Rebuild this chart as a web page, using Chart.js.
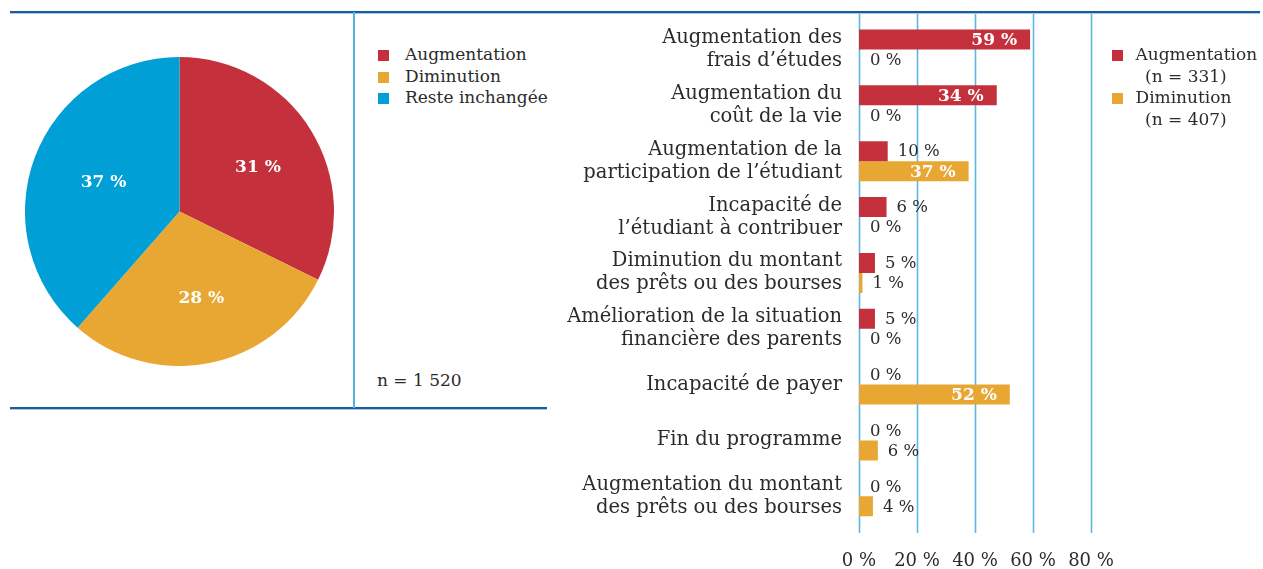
<!DOCTYPE html>
<html lang="fr">
<head>
<meta charset="utf-8">
<script src="https://cdn.jsdelivr.net/npm/chart.js@4/dist/chart.umd.min.js"></script>
<style>
  body { margin: 0; background: #fff; }
  #wrap { position: relative; width: 1263px; height: 569px; overflow: hidden;
    font-family: "DejaVu Serif", serif; color: #2b2b2b; }
  .rule { position: absolute; background: #1d5c9b; }
  #top { left: 10px; top: 11px; width: 1250px; height: 2px; box-shadow: 0 1px 0 #a8c8e4; }
  #bottom { left: 10px; top: 407px; width: 537px; height: 2px; box-shadow: 0 1px 0 #a8c8e4; }
  #vline { position: absolute; left: 353px; top: 12px; width: 2px; height: 396px; background: #55b3df; }
  .legend { position: absolute; font-size: 17px; line-height: 21.5px; }
  .legend .row { position: relative; white-space: nowrap; }
  .legend .sw { position: absolute; left: 0; top: 6px; width: 11px; height: 11px; }
  #pie-legend .row { padding-left: 27px; }
  #bar-legend .row { padding-left: 23.5px; }
  #bar-legend .sub { padding-left: 9.5px; }
  #pie { position: absolute; left: 25px; top: 57px; }
  #bars { position: absolute; left: 555px; top: 0; }
  #nlabel { position: absolute; left: 377px; top: 370px; font-size: 17px; }
</style>
</head>
<body>
<div id="wrap">
  <canvas id="pie" width="309" height="309"></canvas>
  <canvas id="bars" width="708" height="569"></canvas>
  <div class="rule" id="top"></div>
  <div class="rule" id="bottom"></div>
  <div id="vline"></div>
  <div class="legend" id="pie-legend" style="left:378px; top:44px;"></div>
  <div id="nlabel"></div>
  <div class="legend" id="bar-legend" style="left:1112px; top:44px;"></div>
</div>
<script>
"use strict";

// Data ----------------------------------------------------------------------
const pieLabels = ["Augmentation", "Diminution", "Reste inchangée"];
const pieValues = [31, 28, 37];
const pieTotalN = "n = 1 520";

const categories = [
  ["Augmentation des", "frais d’études"],
  ["Augmentation du", "coût de la vie"],
  ["Augmentation de la", "participation de l’étudiant"],
  ["Incapacité de", "l’étudiant à contribuer"],
  ["Diminution du montant", "des prêts ou des bourses"],
  ["Amélioration de la situation", "financière des parents"],
  ["Incapacité de payer"],
  ["Fin du programme"],
  ["Augmentation du montant", "des prêts ou des bourses"],
];
// bar lengths as drawn in the picture, and the percentages printed beside them
const augBars = [59, 47.5, 9.9, 9.5, 5.5, 5.5, 0, 0, 0];
const augText = [59, 34, 10, 6, 5, 5, 0, 0, 0];
const dimBars = [0, 0, 37.8, 0, 1.2, 0, 52, 6.5, 4.8];
const dimText = [0, 0, 37, 0, 1, 0, 52, 6, 4];
const seriesNames = ["Augmentation", "Diminution"];
const seriesN = ["(n = 331)", "(n = 407)"];
const xTicks = [0, 20, 40, 60, 80];

const RED = "#c4303b";
const ORANGE = "#e8a733";
const BLUE = "#009fd6";
const GRID = "#5bb8e2";
const TEXT = "#2b2b2b";
const FONT = "'DejaVu Serif', serif";

Chart.defaults.font.family = FONT;
Chart.defaults.color = TEXT;

// Legends (plain text) ------------------------------------------------------
function legendRow(color, text, sub) {
  let html = `<div class="row"><span class="sw" style="background:${color}"></span>${text}</div>`;
  if (sub) html += `<div class="row"><span class="sub">${sub}</span></div>`;
  return html;
}
document.getElementById("pie-legend").innerHTML =
  pieLabels.map((l, i) => legendRow([RED, ORANGE, BLUE][i], l)).join("");
document.getElementById("bar-legend").innerHTML =
  seriesNames.map((l, i) => legendRow([RED, ORANGE][i], l, seriesN[i])).join("");
document.getElementById("nlabel").textContent = pieTotalN;

// Pie -----------------------------------------------------------------------
const pieLabelPlugin = {
  id: "pieLabels",
  afterDatasetsDraw(chart) {
    const ctx = chart.ctx;
    const meta = chart.getDatasetMeta(0);
    ctx.save();
    ctx.font = `bold 17px ${FONT}`;
    ctx.fillStyle = "#fff";
    ctx.textAlign = "center";
    ctx.textBaseline = "middle";
    meta.data.forEach((arc, i) => {
      const mid = (arc.startAngle + arc.endAngle) / 2;
      const r = arc.outerRadius * 0.56;
      ctx.fillText(pieValues[i] + " %", arc.x + Math.cos(mid) * r + 5, arc.y + Math.sin(mid) * r + 2);
    });
    ctx.restore();
  },
};

new Chart(document.getElementById("pie"), {
  type: "pie",
  data: {
    labels: pieLabels,
    datasets: [{ data: pieValues, backgroundColor: [RED, ORANGE, BLUE], borderWidth: 0 }],
  },
  options: {
    responsive: false,
    animation: false,
    layout: { padding: 0 },
    plugins: { legend: { display: false }, tooltip: { enabled: false } },
  },
  plugins: [pieLabelPlugin],
});

// Bars ----------------------------------------------------------------------
const gridPlugin = {
  id: "tallGrid",
  beforeDatasetsDraw(chart) {
    const ctx = chart.ctx;
    const x = chart.scales.x;
    ctx.save();
    ctx.strokeStyle = GRID;
    ctx.lineWidth = 1.6;
    x.ticks.forEach((t) => {
      const px = Math.round(x.getPixelForValue(t.value)) + 0.5;
      ctx.beginPath();
      ctx.moveTo(px, 12);
      ctx.lineTo(px, 533);
      ctx.stroke();
    });
    ctx.restore();
  },
};

const barLabelPlugin = {
  id: "barLabels",
  afterDatasetsDraw(chart) {
    const ctx = chart.ctx;
    const texts = [augText, dimText];
    ctx.save();
    ctx.textBaseline = "middle";
    chart.data.datasets.forEach((ds, di) => {
      chart.getDatasetMeta(di).data.forEach((bar, i) => {
        const v = texts[di][i];
        const label = v + " %";
        if (v >= 30) {
          ctx.font = `bold 17px ${FONT}`;
          ctx.fillStyle = "#fff";
          ctx.textAlign = "right";
          ctx.fillText(label, bar.x - 13, bar.y + 1);
        } else {
          ctx.font = `16.5px ${FONT}`;
          ctx.fillStyle = TEXT;
          ctx.textAlign = "left";
          ctx.fillText(label, bar.x + (ds.data[i] === 0 ? 11 : 10), bar.y + 1);
        }
      });
    });
    ctx.restore();
  },
};

new Chart(document.getElementById("bars"), {
  type: "bar",
  data: {
    labels: categories,
    datasets: [
      { label: seriesNames[0], data: augBars, backgroundColor: RED },
      { label: seriesNames[1], data: dimBars, backgroundColor: ORANGE },
    ],
  },
  options: {
    indexAxis: "y",
    responsive: false,
    animation: false,
    categoryPercentage: 0.716,
    barPercentage: 1,
    layout: { padding: { top: 21.6, right: 172, bottom: 0, left: 0 } },
    scales: {
      x: {
        min: 0,
        max: 80,
        afterBuildTicks: (s) => { s.ticks = xTicks.map((v) => ({ value: v })); },
        afterFit: (s) => { s.height = 44.8; s.paddingLeft = 0; s.paddingRight = 0; },
        grid: { display: false, drawTicks: false },
        border: { display: false },
        ticks: { callback: (v) => v + " %", font: { size: 18 }, color: TEXT, padding: 26, maxRotation: 0 },
      },
      y: {
        afterFit: (s) => { s.width = 304; s.paddingTop = 0; s.paddingBottom = 0; },
        grid: { display: false, drawTicks: false },
        border: { display: false },
        ticks: { font: { size: 19.5, lineHeight: 1.18 }, color: TEXT, padding: 17 },
      },
    },
    plugins: { legend: { display: false }, tooltip: { enabled: false } },
  },
  plugins: [gridPlugin, barLabelPlugin],
});
</script>
</body>
</html>
